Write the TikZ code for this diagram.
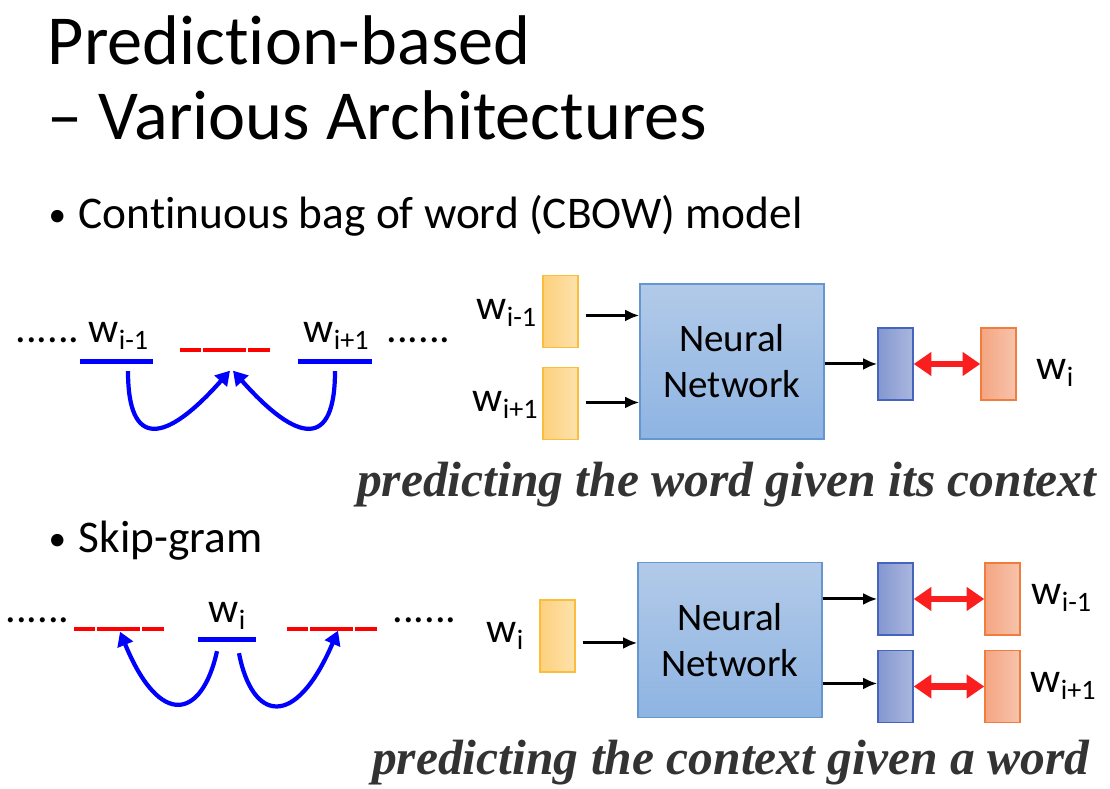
\documentclass[tikz,border=0pt]{standalone}
\usepackage{fontspec}
\setmainfont{Carlito}[RawFeature=-liga]
\newfontfamily\captfont{Liberation Serif}
\usetikzlibrary{arrows.meta}
\definecolor{inleft}{RGB}{253,208,125}
\definecolor{inright}{RGB}{253,226,172}
\definecolor{inedge}{RGB}{250,190,60}
\definecolor{nntop}{RGB}{178,202,232}
\definecolor{nnbot}{RGB}{142,180,226}
\definecolor{nnedge}{RGB}{100,150,210}
\definecolor{outleft}{RGB}{132,151,208}
\definecolor{outright}{RGB}{170,183,222}
\definecolor{outedge}{RGB}{70,100,190}
\definecolor{tgtleft}{RGB}{244,165,130}
\definecolor{tgtright}{RGB}{247,196,172}
\definecolor{tgtedge}{RGB}{240,125,60}
\definecolor{matchred}{RGB}{250,30,30}
\definecolor{captgray}{RGB}{51,51,51}
\tikzstyle{title}=[font=\fontsize{20}{24}\selectfont, inner sep=0pt, anchor=base west]
\tikzstyle{bullet}=[font=\fontsize{12.9}{16}\selectfont, inner sep=0pt, anchor=base west]
\tikzstyle{dot}=[font=\fontsize{10}{12}\selectfont, inner sep=0pt, anchor=base west]
\tikzstyle{wlbl}=[font=\fontsize{12}{14}\selectfont, inner sep=0pt, anchor=base west]
\tikzstyle{capt}=[font=\captfont\bfseries\itshape\fontsize{14.1}{17}\selectfont, text=captgray, inner sep=0pt, anchor=base east]
\tikzstyle{inbox}=[draw=inedge, left color=inleft, right color=inright, minimum width=0.35cm, minimum height=0.72cm, inner sep=0pt]
\tikzstyle{outbox}=[draw=outedge, left color=outleft, right color=outright, minimum width=0.35cm, minimum height=0.72cm, inner sep=0pt]
\tikzstyle{tgtbox}=[draw=tgtedge, left color=tgtleft, right color=tgtright, minimum width=0.35cm, minimum height=0.72cm, inner sep=0pt]
\tikzstyle{nnbox}=[draw=nnedge, top color=nntop, bottom color=nnbot, minimum width=1.84cm, minimum height=1.55cm, align=center, font=\fontsize{11.1}{13.1}\selectfont]
\tikzstyle{wbar}=[fill=blue, minimum height=0.05cm, inner sep=0pt]
\tikzstyle{slotpt}=[minimum width=0.9cm, minimum height=0pt, inner sep=0pt]
\tikzstyle{slot}=[draw=red, line width=0.9pt, dash pattern=on 0.21cm off 0.02cm on 0.43cm off 0.02cm on 0.22cm off 1cm]
\tikzstyle{feed}=[-{Latex[length=4pt,width=3.4pt]}, line width=0.85pt]
\tikzstyle{match}=[{Triangle[length=5pt,width=6.5pt]}-{Triangle[length=5pt,width=6.5pt]}, draw=matchred, line width=1.8pt]
\tikzstyle{hop}=[-{Triangle[length=4pt,width=4.6pt]}, draw=blue, line width=1.2pt]

\begin{document}
\begin{tikzpicture}
\useasboundingbox (0,0) rectangle (11.1,7.89);
% heading
\node[title] (head1) at (0.47,7.24) {Prediction-based};
\node[title] (head2) at (0.47,6.49) {– Various Architectures};
\node[dot] (cbowdot) at (0.48,5.62) {•};
\node[bullet] (cbowitem) at (0.78,5.60) {Continuous bag of word (CBOW) model};
\node[dot] (skipdot) at (0.48,2.38) {•};
\node[bullet] (skipitem) at (0.78,2.36) {Skip-gram};

% CBOW, sentence
\node[wlbl] (dotsa) at (0.15,4.46) {......};
\node[wlbl] (prevw) at (0.88,4.46) {w\textsubscript{i-1}};
\node[wbar, minimum width=0.73cm] (prevbar) at (1.165,4.27) {};
\node[slotpt] (gap) at (2.26,4.39) {};
\draw[slot] (gap.west) -- (gap.east);
\node[wlbl] (nextw) at (3.03,4.46) {w\textsubscript{i+1}};
\node[wbar, minimum width=0.74cm] (nextbar) at (3.35,4.27) {};
\node[wlbl] (dotsb) at (3.86,4.46) {......};
\draw[hop] ([xshift=0.115cm,yshift=-0.06cm]prevbar.south) .. controls (1.28,3.4) and (1.65,3.45) .. ([xshift=0.04cm,yshift=-0.2cm]gap.south);
\draw[hop] ([yshift=-0.06cm]nextbar.south) .. controls (3.35,3.4) and (2.98,3.45) .. ([xshift=0.07cm,yshift=-0.2cm]gap.south);

% CBOW, network
\node[wlbl] (cin1) at (4.76,4.69) {w\textsubscript{i-1}};
\node[wlbl] (cin2) at (4.72,3.77) {w\textsubscript{i+1}};
\node[inbox] (ina) at (5.605,4.775) {};
\node[inbox] (inb) at (5.605,3.855) {};
\node[nnbox] (nna) at (7.32,4.275) {Neural\\Network};
\node[outbox] (outa) at (8.955,4.25) {};
\node[tgtbox] (tgta) at (9.985,4.25) {};
\node[wlbl] (cout) at (10.36,4.09) {w\textsubscript{i}};
\draw[feed] ([xshift=0.07cm,yshift=-0.04cm]ina.east) -- ([yshift=-0.04cm]ina.east -| nna.west);
\draw[feed] ([xshift=0.07cm,yshift=0.01cm]inb.east) -- ([yshift=0.01cm]inb.east -| nna.west);
\draw[feed] (nna.east |- outa.west) -- (outa.west);
\draw[match] (outa.east) -- (tgta.west);
\node[capt] (capta) at (10.97,2.92) {predicting the word given its context};

% skip-gram, sentence
\node[wlbl] (dotsc) at (0.05,1.66) {......};
\node[slotpt] (gapa) at (1.20,1.60) {};
\draw[slot] (gapa.west) -- (gapa.east);
\node[wlbl] (midw) at (2.08,1.66) {w\textsubscript{i}};
\node[wbar, minimum width=0.58cm] (midbar) at (2.27,1.49) {};
\node[slotpt] (gapb) at (3.325,1.60) {};
\draw[slot] (gapb.west) -- (gapb.east);
\node[wlbl] (dotsd) at (3.92,1.66) {......};
\draw[hop] ([xshift=-0.1cm,yshift=-0.08cm]midbar.south) .. controls (2.02,0.7) and (1.6,0.6) .. ([yshift=-0.02cm]gapa.south);
\draw[hop] ([xshift=0.12cm,yshift=-0.1cm]midbar.south) .. controls (2.52,0.68) and (2.95,0.58) .. ([xshift=0.055cm,yshift=-0.01cm]gapb.south);

% skip-gram, network
\node[wlbl] (sin) at (4.86,1.46) {w\textsubscript{i}};
\node[inbox] (inc) at (5.575,1.53) {};
\node[nnbox] (nnb) at (7.30,1.49) {Neural\\Network};
\node[outbox] (outb) at (8.955,1.90) {};
\node[outbox] (outc) at (8.955,1.025) {};
\node[tgtbox] (tgtb) at (10.025,1.90) {};
\node[tgtbox] (tgtc) at (10.025,1.025) {};
\node[wlbl] (sout1) at (10.31,1.84) {w\textsubscript{i-1}};
\node[wlbl] (sout2) at (10.30,0.96) {w\textsubscript{i+1}};
\draw[feed] ([xshift=0.07cm,yshift=-0.07cm]inc.east) -- ([yshift=-0.07cm]inc.east -| nnb.west);
\draw[feed] (nnb.east |- outb.west) -- (outb.west);
\draw[feed] ([yshift=0.03cm]nnb.east |- outc.west) -- ([yshift=0.03cm]outc.west);
\draw[match] (outb.east) -- (tgtb.west);
\draw[match] (outc.east) -- (tgtc.west);
\node[capt] (captb) at (10.90,0.14) {predicting the context given a word};
\end{tikzpicture}
\end{document}
